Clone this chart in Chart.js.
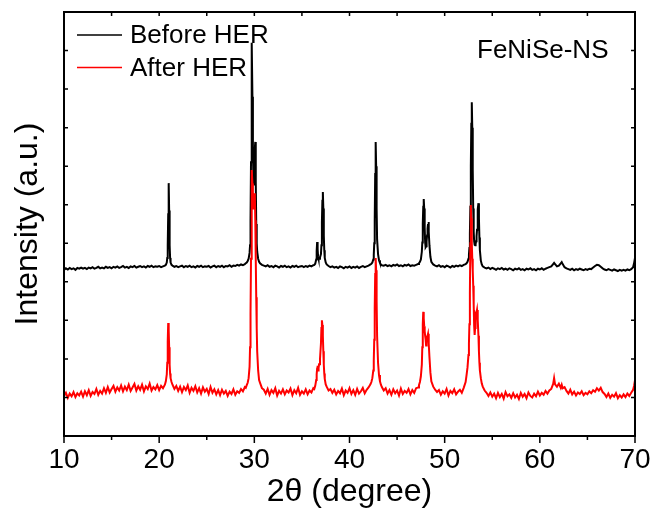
<!DOCTYPE html>
<html>
<head>
<meta charset="utf-8">
<title>FeNiSe-NS XRD</title>
<script src="https://cdn.jsdelivr.net/npm/chart.js@4.4.1/dist/chart.umd.min.js"></script>
<style>
  html, body { margin: 0; padding: 0; background: #fff; }
  #wrap { width: 655px; height: 515px; }
</style>
</head>
<body>
<div id="wrap"><canvas id="xrd" width="655" height="515"></canvas></div>
<script>
// 2θ sampling positions (degrees), finer around the reflections
const twoTheta = [
  10.0, 10.2, 10.4, 10.6, 10.8, 11.0, 11.2, 11.4, 11.6, 11.8,
  12.0, 12.2, 12.4, 12.6, 12.8, 13.0, 13.2, 13.4, 13.6, 13.8,
  14.0, 14.2, 14.4, 14.6, 14.8, 15.0, 15.2, 15.4, 15.6, 15.8,
  16.0, 16.2, 16.4, 16.6, 16.8, 17.0, 17.2, 17.4, 17.6, 17.8,
  18.0, 18.2, 18.4, 18.6, 18.8, 19.0, 19.2, 19.4, 19.6, 19.8,
  20.0, 20.2, 20.4, 20.6, 20.7, 20.8, 20.85, 20.9, 20.95, 21.0,
  21.05, 21.1, 21.15, 21.2, 21.3, 21.4, 21.6, 21.8, 22.0, 22.2,
  22.4, 22.6, 22.8, 23.0, 23.2, 23.4, 23.6, 23.8, 24.0, 24.2,
  24.4, 24.6, 24.8, 25.0, 25.2, 25.4, 25.6, 25.8, 26.0, 26.2,
  26.4, 26.6, 26.8, 27.0, 27.2, 27.4, 27.6, 27.8, 28.0, 28.2,
  28.4, 28.6, 28.8, 29.0, 29.1, 29.2, 29.3, 29.4, 29.5, 29.55,
  29.6, 29.65, 29.7, 29.75, 29.8, 29.85, 29.9, 29.95, 30.0, 30.05,
  30.1, 30.15, 30.2, 30.25, 30.3, 30.4, 30.5, 30.6, 30.8, 31.0,
  31.2, 31.4, 31.6, 31.8, 32.0, 32.2, 32.4, 32.6, 32.8, 33.0,
  33.2, 33.4, 33.6, 33.8, 34.0, 34.2, 34.4, 34.6, 34.8, 35.0,
  35.2, 35.4, 35.6, 35.8, 36.0, 36.2, 36.3, 36.4, 36.5, 36.55,
  36.6, 36.65, 36.7, 36.75, 36.8, 36.9, 37.0, 37.05, 37.1, 37.15,
  37.2, 37.25, 37.3, 37.35, 37.4, 37.5, 37.6, 37.8, 38.0, 38.2,
  38.4, 38.6, 38.8, 39.0, 39.2, 39.4, 39.6, 39.8, 40.0, 40.2,
  40.4, 40.6, 40.8, 41.0, 41.2, 41.4, 41.6, 41.8, 42.0, 42.2,
  42.3, 42.4, 42.5, 42.55, 42.6, 42.65, 42.7, 42.75, 42.8, 42.85,
  42.9, 43.0, 43.1, 43.2, 43.3, 43.4, 43.6, 43.8, 44.0, 44.2,
  44.4, 44.6, 44.8, 45.0, 45.2, 45.4, 45.6, 45.8, 46.0, 46.2,
  46.4, 46.6, 46.8, 47.0, 47.2, 47.3, 47.4, 47.5, 47.6, 47.65,
  47.7, 47.75, 47.8, 47.85, 47.9, 47.95, 48.0, 48.05, 48.1, 48.15,
  48.2, 48.25, 48.3, 48.35, 48.4, 48.5, 48.6, 48.8, 49.0, 49.2,
  49.4, 49.6, 49.8, 50.0, 50.2, 50.4, 50.6, 50.8, 51.0, 51.2,
  51.4, 51.6, 51.8, 52.0, 52.2, 52.3, 52.4, 52.5, 52.55, 52.6,
  52.65, 52.7, 52.75, 52.8, 52.85, 52.9, 52.95, 53.0, 53.05, 53.1,
  53.15, 53.2, 53.25, 53.3, 53.35, 53.4, 53.45, 53.5, 53.55, 53.6,
  53.65, 53.7, 53.8, 53.9, 54.0, 54.2, 54.4, 54.6, 54.8, 55.0,
  55.2, 55.4, 55.6, 55.8, 56.0, 56.2, 56.4, 56.6, 56.8, 57.0,
  57.2, 57.4, 57.6, 57.8, 58.0, 58.2, 58.4, 58.6, 58.8, 59.0,
  59.2, 59.4, 59.6, 59.8, 60.0, 60.2, 60.4, 60.6, 60.8, 61.0,
  61.2, 61.4, 61.5, 61.6, 61.8, 62.0, 62.2, 62.3, 62.4, 62.6,
  62.8, 63.0, 63.2, 63.4, 63.6, 63.8, 64.0, 64.2, 64.4, 64.6,
  64.8, 65.0, 65.2, 65.4, 65.6, 65.8, 66.0, 66.2, 66.4, 66.6,
  66.8, 67.0, 67.2, 67.4, 67.6, 67.8, 68.0, 68.2, 68.4, 68.6,
  68.8, 69.0, 69.2, 69.4, 69.6, 69.8, 69.9, 70.0
];

// Intensity (a.u., stacked offset) before HER
const beforeHER = [
  4.31, 4.35, 4.32, 4.36, 4.33, 4.35, 4.31, 4.36, 4.34, 4.37,
  4.34, 4.36, 4.33, 4.37, 4.35, 4.38, 4.34, 4.36, 4.39, 4.35,
  4.37, 4.35, 4.39, 4.36, 4.38, 4.35, 4.39, 4.37, 4.40, 4.36,
  4.38, 4.41, 4.37, 4.39, 4.36, 4.40, 4.38, 4.41, 4.37, 4.39,
  4.41, 4.38, 4.40, 4.37, 4.41, 4.39, 4.42, 4.38, 4.40, 4.39,
  4.41, 4.38, 4.40, 4.42, 4.44, 4.50, 4.62, 4.95, 5.75, 6.56,
  5.85, 4.95, 4.62, 4.50, 4.44, 4.42, 4.39, 4.41, 4.38, 4.40,
  4.42, 4.38, 4.41, 4.39, 4.42, 4.38, 4.40, 4.37, 4.41, 4.39,
  4.42, 4.38, 4.40, 4.39, 4.41, 4.37, 4.40, 4.42, 4.38, 4.41,
  4.39, 4.42, 4.38, 4.41, 4.40, 4.43, 4.39, 4.42, 4.41, 4.44,
  4.42, 4.45, 4.43, 4.46, 4.48, 4.50, 4.54, 4.60, 4.75, 4.95,
  5.60, 7.10, 9.30, 10.20, 8.80, 7.40, 6.70, 6.50, 6.90, 7.45,
  7.63, 6.60, 5.50, 5.00, 4.78, 4.60, 4.52, 4.48, 4.44, 4.42,
  4.40, 4.43, 4.39, 4.41, 4.38, 4.42, 4.40, 4.37, 4.41, 4.39,
  4.42, 4.38, 4.40, 4.37, 4.41, 4.39, 4.42, 4.38, 4.40, 4.41,
  4.38, 4.41, 4.39, 4.42, 4.40, 4.43, 4.44, 4.47, 4.58, 4.80,
  5.03, 4.85, 4.66, 4.60, 4.60, 4.63, 4.72, 4.95, 5.55, 6.10,
  6.33, 5.90, 5.20, 4.82, 4.62, 4.50, 4.45, 4.41, 4.38, 4.40,
  4.37, 4.39, 4.36, 4.40, 4.38, 4.35, 4.39, 4.37, 4.40, 4.36,
  4.39, 4.37, 4.40, 4.36, 4.39, 4.41, 4.38, 4.40, 4.42, 4.45,
  4.47, 4.50, 4.58, 4.70, 5.00, 5.60, 6.80, 7.63, 7.00, 5.90,
  5.10, 4.72, 4.56, 4.49, 4.45, 4.43, 4.42, 4.44, 4.41, 4.43,
  4.40, 4.44, 4.42, 4.45, 4.41, 4.43, 4.40, 4.44, 4.42, 4.45,
  4.41, 4.43, 4.42, 4.44, 4.46, 4.48, 4.52, 4.58, 4.78, 5.02,
  5.50, 5.95, 6.15, 5.90, 5.40, 5.02, 4.90, 4.92, 5.05, 5.20,
  5.38, 5.50, 5.55, 5.30, 4.95, 4.65, 4.52, 4.45, 4.42, 4.40,
  4.43, 4.39, 4.41, 4.38, 4.42, 4.40, 4.37, 4.41, 4.39, 4.42,
  4.40, 4.43, 4.41, 4.44, 4.46, 4.48, 4.52, 4.60, 4.70, 4.88,
  5.25, 5.95, 7.00, 8.10, 8.66, 8.00, 6.90, 5.90, 5.30, 5.05,
  4.96, 4.95, 4.97, 5.05, 5.18, 5.35, 5.60, 5.88, 6.04, 5.65,
  5.15, 4.82, 4.55, 4.45, 4.40, 4.37, 4.35, 4.37, 4.33, 4.36,
  4.34, 4.31, 4.35, 4.33, 4.36, 4.32, 4.34, 4.31, 4.35, 4.33,
  4.30, 4.34, 4.32, 4.35, 4.31, 4.33, 4.30, 4.34, 4.32, 4.35,
  4.31, 4.33, 4.30, 4.34, 4.32, 4.35, 4.31, 4.34, 4.36, 4.38,
  4.40, 4.46, 4.49, 4.46, 4.40, 4.42, 4.48, 4.51, 4.46, 4.38,
  4.35, 4.33, 4.31, 4.34, 4.30, 4.33, 4.31, 4.34, 4.32, 4.30,
  4.33, 4.31, 4.34, 4.33, 4.37, 4.41, 4.44, 4.43, 4.39, 4.35,
  4.32, 4.30, 4.33, 4.31, 4.29, 4.32, 4.30, 4.28, 4.31, 4.29,
  4.31, 4.29, 4.32, 4.30, 4.33, 4.38, 4.48, 4.62
];

// Intensity (a.u., stacked offset) after HER
const afterHER = [
  1.04, 1.12, 0.99, 1.10, 1.03, 1.14, 1.01, 1.11, 1.05, 1.15,
  1.02, 1.16, 1.06, 1.19, 1.04, 1.14, 1.09, 1.22, 1.07, 1.17,
  1.10, 1.24, 1.12, 1.27, 1.13, 1.22, 1.30, 1.15, 1.26, 1.18,
  1.31, 1.16, 1.28, 1.19, 1.33, 1.17, 1.26, 1.35, 1.18, 1.29,
  1.20, 1.33, 1.16, 1.29, 1.22, 1.36, 1.18, 1.27, 1.21, 1.32,
  1.19, 1.30, 1.24, 1.33, 1.42, 1.60, 1.90, 2.45, 2.93, 2.75,
  2.30, 1.85, 1.62, 1.50, 1.40, 1.33, 1.22, 1.30, 1.17, 1.28,
  1.14, 1.27, 1.19, 1.31, 1.12, 1.25, 1.17, 1.29, 1.13, 1.24,
  1.10, 1.26, 1.15, 1.22, 1.09, 1.27, 1.12, 1.21, 1.08, 1.19,
  1.06, 1.20, 1.10, 1.17, 1.04, 1.15, 1.09, 1.21, 1.07, 1.16,
  1.12, 1.22, 1.16, 1.27, 1.25, 1.32, 1.38, 1.50, 1.80, 2.30,
  3.20, 4.60, 6.20, 6.90, 6.55, 6.10, 5.90, 6.00, 6.20, 6.30,
  5.60, 4.60, 3.60, 2.80, 2.20, 1.70, 1.45, 1.38, 1.24, 1.20,
  1.10, 1.22, 1.07, 1.19, 1.12, 1.24, 1.05, 1.17, 1.10, 1.21,
  1.08, 1.18, 1.13, 1.23, 1.06, 1.19, 1.11, 1.25, 1.07, 1.16,
  1.10, 1.21, 1.08, 1.18, 1.13, 1.24, 1.22, 1.30, 1.45, 1.60,
  1.75, 1.82, 1.70, 1.76, 1.86, 2.00, 2.40, 2.80, 3.00, 2.88,
  2.60, 2.20, 1.85, 1.62, 1.48, 1.34, 1.28, 1.18, 1.22, 1.12,
  1.20, 1.08, 1.17, 1.11, 1.23, 1.06, 1.18, 1.12, 1.24, 1.09,
  1.19, 1.07, 1.22, 1.10, 1.16, 1.25, 1.11, 1.20, 1.26, 1.34,
  1.40, 1.50, 1.70, 1.95, 2.50, 3.30, 4.20, 4.62, 4.30, 3.50,
  2.60, 1.90, 1.58, 1.42, 1.33, 1.27, 1.18, 1.24, 1.10, 1.19,
  1.07, 1.21, 1.11, 1.18, 1.05, 1.23, 1.09, 1.17, 1.12, 1.22,
  1.08, 1.19, 1.12, 1.24, 1.26, 1.32, 1.40, 1.55, 1.85, 2.30,
  2.90, 3.22, 3.05, 2.85, 2.72, 2.60, 2.50, 2.35, 2.48, 2.55,
  2.60, 2.65, 2.58, 2.40, 2.05, 1.65, 1.42, 1.28, 1.20, 1.14,
  1.19, 1.07, 1.16, 1.10, 1.22, 1.05, 1.17, 1.11, 1.21, 1.08,
  1.15, 1.20, 1.12, 1.25, 1.40, 1.58, 1.78, 2.10, 2.40, 2.90,
  3.70, 5.00, 5.99, 5.65, 5.00, 4.60, 4.30, 3.90, 3.40, 2.85,
  2.62, 2.80, 3.10, 3.05, 3.20, 3.27, 3.22, 3.00, 2.60, 2.20,
  1.90, 1.70, 1.50, 1.36, 1.28, 1.18, 1.12, 1.04, 1.13, 1.02,
  1.10, 0.98, 1.12, 1.01, 1.09, 0.97, 1.14, 1.03, 1.08, 0.99,
  1.11, 1.00, 1.07, 0.96, 1.12, 1.02, 1.09, 0.98, 1.13, 1.04,
  1.00, 1.10, 1.03, 1.15, 1.05, 1.12, 1.07, 1.17, 1.10, 1.18,
  1.22, 1.35, 1.50, 1.34, 1.28, 1.36, 1.25, 1.33, 1.24, 1.27,
  1.17, 1.10, 1.20, 1.08, 1.15, 1.05, 1.13, 1.09, 1.16, 1.06,
  1.12, 1.08, 1.16, 1.11, 1.19, 1.15, 1.24, 1.18, 1.25, 1.14,
  1.09, 1.01, 1.10, 0.99, 1.07, 1.02, 1.11, 0.98, 1.06, 1.00,
  1.08, 1.01, 1.10, 1.04, 1.12, 1.20, 1.30, 1.45
];

const seriesLabels = ['Before HER', 'After HER'];
const seriesColors = ['#000000', '#ff0000'];
const xTickValues = [10, 20, 30, 40, 50, 60, 70];
const sampleName = 'FeNiSe-NS';

const FONT = "'Liberation Sans', Arial, Helvetica, sans-serif";

function toPoints(values) {
  return twoTheta.map((t, i) => ({ x: t, y: values[i] }));
}

// Closed frame with inward/outward tick marks, legend and sample label
const framePlugin = {
  id: 'framePlugin',
  afterDatasetsDraw(chart) {
    const { ctx, chartArea: a, scales: { x, y } } = chart;
    ctx.save();
    ctx.strokeStyle = '#000';
    ctx.lineCap = 'butt';

    ctx.lineWidth = 1.5;
    ctx.beginPath();
    x.ticks.forEach(t => {
      const px = x.getPixelForValue(t.value);
      const major = xTickValues.includes(t.value);
      ctx.moveTo(px, a.bottom);
      ctx.lineTo(px, a.bottom + (major ? 7 : 4));
      ctx.moveTo(px, a.top);
      ctx.lineTo(px, a.top + 4);
    });
    y.ticks.forEach(t => {
      const py = y.getPixelForValue(t.value);
      ctx.moveTo(a.left, py);
      ctx.lineTo(a.left + 4, py);
      ctx.moveTo(a.right, py);
      ctx.lineTo(a.right - 4, py);
    });
    ctx.stroke();

    ctx.lineWidth = 2;
    ctx.strokeRect(a.left, a.top, a.right - a.left, a.bottom - a.top);

    // legend
    ctx.font = '26px ' + FONT;
    ctx.textBaseline = 'alphabetic';
    ctx.textAlign = 'left';
    chart.data.datasets.forEach((ds, i) => {
      const ly = a.top + 23 + i * 32.5;
      ctx.strokeStyle = ds.borderColor;
      ctx.lineWidth = 1.5;
      ctx.beginPath();
      ctx.moveTo(a.left + 13, ly);
      ctx.lineTo(a.left + 58, ly);
      ctx.stroke();
      ctx.fillStyle = '#000';
      ctx.fillText(ds.label, a.left + 66, ly + 8);
    });

    // sample name
    ctx.font = '26px ' + FONT;
    ctx.fillStyle = '#000';
    ctx.fillText(sampleName, 477, 58);
    ctx.restore();
  }
};

new Chart(document.getElementById('xrd'), {
  type: 'line',
  data: {
    datasets: [
      {
        label: seriesLabels[0],
        data: toPoints(beforeHER),
        borderColor: seriesColors[0],
        borderWidth: 2,
        pointRadius: 0,
        tension: 0,
        order: 1
      },
      {
        label: seriesLabels[1],
        data: toPoints(afterHER),
        borderColor: seriesColors[1],
        borderWidth: 2,
        pointRadius: 0,
        tension: 0,
        order: 0
      }
    ]
  },
  options: {
    responsive: false,
    animation: false,
    events: [],
    layout: { padding: { left: 0, right: 20, top: 12, bottom: 0 } },
    plugins: {
      legend: { display: false },
      tooltip: { enabled: false }
    },
    scales: {
      x: {
        type: 'linear',
        min: 10,
        max: 70,
        grid: { display: false, drawTicks: false },
        border: { display: false },
        ticks: {
          stepSize: 5,
          autoSkip: false,
          maxRotation: 0,
          padding: 7,
          color: '#000',
          font: { family: FONT, size: 28 },
          callback: v => (xTickValues.includes(v) ? String(v) : '')
        },
        title: {
          display: true,
          text: '2θ (degree)',
          color: '#000',
          font: { family: FONT, size: 32 },
          padding: { top: 0, bottom: 4 }
        },
        afterFit: s => {
          s.height = 79;
          s.paddingLeft = 0;
          s.paddingRight = 0;
        }
      },
      y: {
        type: 'linear',
        min: 0,
        max: 11,
        grid: { display: false, drawTicks: false },
        border: { display: false },
        ticks: { stepSize: 1, display: false },
        title: {
          display: true,
          text: 'Intensity (a.u.)',
          color: '#000',
          font: { family: FONT, size: 32 },
          padding: { top: 9, bottom: 0 }
        },
        afterFit: s => { s.width = 64; }
      }
    }
  },
  plugins: [framePlugin]
});
</script>
</body>
</html>
